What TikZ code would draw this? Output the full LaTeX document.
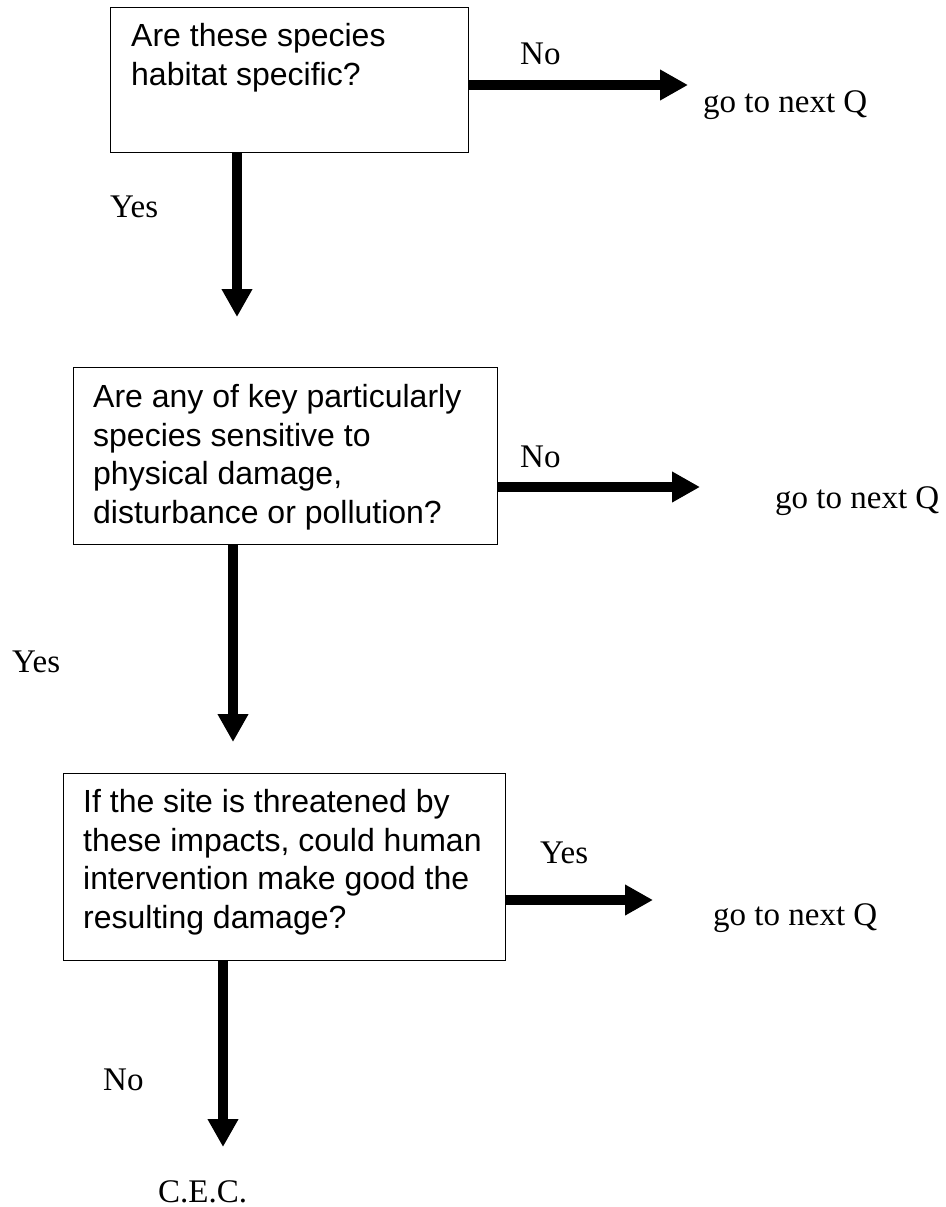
\documentclass[tikz,border=0pt]{standalone}
\usepackage{fontspec}
\setmainfont{Liberation Serif}
\newfontfamily\boxfont{Liberation Sans}
\usetikzlibrary{arrows.meta}
\tikzset{
  qbox/.style={draw=black, line width=1.2pt, inner sep=0pt, anchor=north west, fill=white},
  qtext/.style={inner sep=0pt, anchor=base west, align=left, font=\boxfont\fontsize{32}{38.5}\selectfont},
  lbl/.style={inner sep=0pt, anchor=base west, font=\fontsize{33}{38}\selectfont},
  arr/.style={line width=10pt, -{Triangle[width=29pt,length=28pt]}}
}
\begin{document}
\begin{tikzpicture}[x=1pt,y=-1pt]
\useasboundingbox (0,0) rectangle (945,1207);
% boxes
\node[qbox, minimum width=358pt, minimum height=145pt] (q1) at (110,7) {};
\node[qbox, minimum width=424pt, minimum height=177pt] (q2) at (73,367) {};
\node[qbox, minimum width=442pt, minimum height=187pt] (q3) at (63,773) {};
% box texts (anchored at the baseline of the last line)
\node[qtext] (q1t) at (131,85) {Are these species\\habitat specific?};
\node[qtext] (q2t) at (93,523) {Are any of key particularly\\species sensitive to\\physical damage,\\disturbance or pollution?};
\node[qtext] (q3t) at (83,928) {If the site is threatened by\\these impacts, could human\\intervention make good the\\resulting damage?};
% tip coordinates
\coordinate (d1) at (237,317);
\coordinate (r1) at (688,85);
\coordinate (d2) at (233,742);
\coordinate (r2) at (700,487);
\coordinate (d3) at (223,1147);
\coordinate (r3) at (653,900);
% arrows
\draw[arr] (q1.south -| d1) -- (d1);
\draw[arr] (q1.east |- r1) -- (r1);
\draw[arr] (q2.south -| d2) -- (d2);
\draw[arr] (q2.east |- r2) -- (r2);
\draw[arr] (q3.south -| d3) -- (d3);
\draw[arr] (q3.east |- r3) -- (r3);
% labels
\node[lbl] (y1) at (110,217) {Yes};
\node[lbl] (n1) at (520,65) {No};
\node[lbl] (g1) at (703,112) {go to next Q};
\node[lbl] (y2) at (12,672) {Yes};
\node[lbl] (n2) at (520,467) {No};
\node[lbl] (g2) at (775,508) {go to next Q};
\node[lbl] (y3) at (540,863) {Yes};
\node[lbl] (g3) at (713,925) {go to next Q};
\node[lbl] (n3) at (103,1090) {No};
\node[lbl] (cec) at (158,1202) {C.E.C.};
\end{tikzpicture}
\end{document}
